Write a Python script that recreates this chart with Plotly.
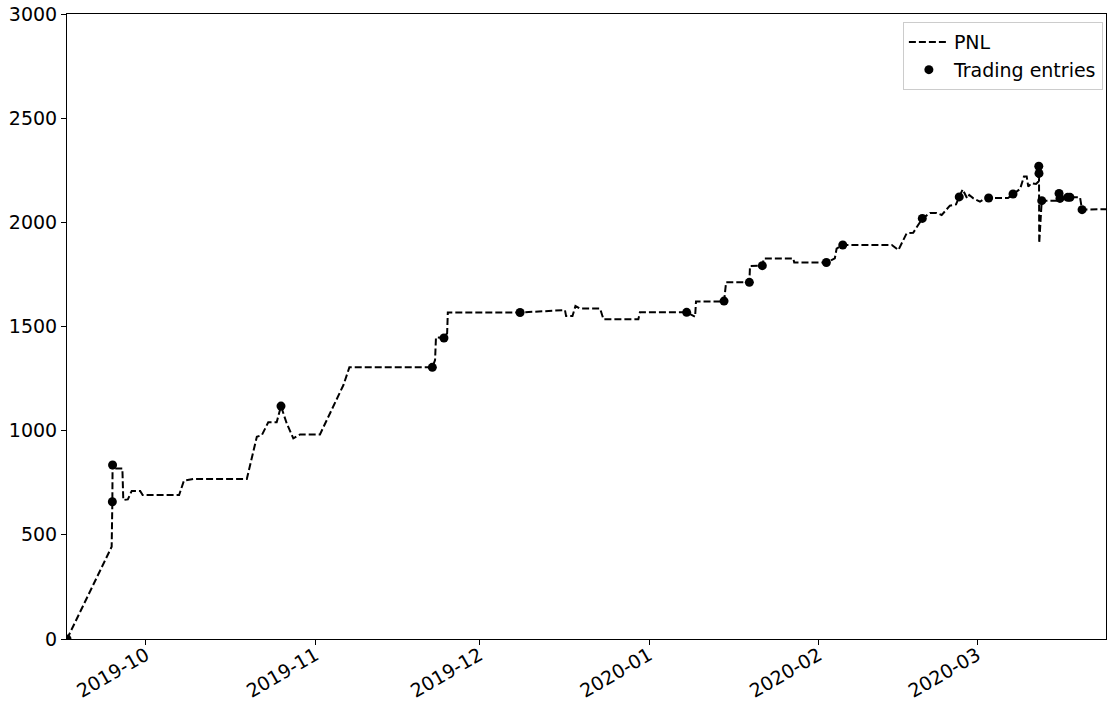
import plotly.graph_objects as go

# PNL curve (date, value)
pnl_dates = [
    "2019-09-16 14:00", "2019-09-24 18:00", "2019-09-24 21:00", "2019-09-24 22:00", "2019-09-24 23:00",
    "2019-09-26 17:00", "2019-09-26 21:00", "2019-09-27 17:00", "2019-09-28 10:00", "2019-09-29 23:00",
    "2019-09-30 10:00", "2019-10-07 02:00", "2019-10-07 23:00", "2019-10-09 16:00", "2019-10-19 11:00",
    "2019-10-21 07:00", "2019-10-22 05:00", "2019-10-23 09:00", "2019-10-24 22:00", "2019-10-25 17:00",
    "2019-10-26 18:00", "2019-10-27 23:00", "2019-10-29 05:00", "2019-11-01 20:00", "2019-11-06 03:00",
    "2019-11-07 05:00", "2019-11-22 09:00", "2019-11-22 21:00", "2019-11-23 01:00", "2019-11-24 12:00",
    "2019-11-25 02:00", "2019-11-25 05:00", "2019-12-08 10:00", "2019-12-16 15:00", "2019-12-16 20:00",
    "2019-12-18 00:00", "2019-12-18 13:00", "2019-12-19 09:00", "2019-12-23 01:00", "2019-12-23 16:00",
    "2019-12-30 01:00", "2019-12-30 08:00", "2020-01-07 21:00", "2020-01-09 10:00", "2020-01-09 14:00",
    "2020-01-14 17:00", "2020-01-15 02:00", "2020-01-19 08:00", "2020-01-19 11:00", "2020-01-21 17:00",
    "2020-01-22 00:00", "2020-01-27 09:00", "2020-01-27 13:00", "2020-02-02 10:00", "2020-02-03 23:00",
    "2020-02-04 07:00", "2020-02-05 10:00", "2020-02-14 09:00", "2020-02-15 14:00", "2020-02-17 02:00",
    "2020-02-18 07:00", "2020-02-19 23:00", "2020-02-21 09:00", "2020-02-22 14:00", "2020-02-23 12:00",
    "2020-02-25 00:00", "2020-02-26 03:00", "2020-02-26 17:00", "2020-02-27 08:00", "2020-02-28 04:00",
    "2020-02-28 13:00", "2020-02-29 07:00", "2020-03-01 12:00", "2020-03-02 03:00", "2020-03-03 02:00",
    "2020-03-06 15:00", "2020-03-07 13:00", "2020-03-08 20:00", "2020-03-09 13:00", "2020-03-10 01:00",
    "2020-03-10 08:00", "2020-03-10 23:00", "2020-03-11 18:00", "2020-03-12 04:00", "2020-03-12 06:00",
    "2020-03-12 07:00", "2020-03-12 08:00", "2020-03-12 19:00", "2020-03-15 13:00", "2020-03-15 23:00",
    "2020-03-16 03:00", "2020-03-17 13:00", "2020-03-17 23:00", "2020-03-19 19:00", "2020-03-20 04:00",
    "2020-03-24 13:00",
]
pnl_values = [
    0, 443, 659, 835, 819,
    819, 667, 670, 711, 711,
    691, 691, 760, 768, 768,
    971, 979, 1040, 1040, 1118,
    1035, 963, 982, 982, 1219,
    1304, 1304, 1339, 1448, 1445,
    1468, 1567, 1567, 1579, 1550,
    1550, 1598, 1586, 1586, 1535,
    1535, 1568, 1568, 1547, 1620,
    1620, 1712, 1712, 1790, 1792,
    1827, 1827, 1807, 1807, 1827,
    1874, 1891, 1891, 1867, 1947,
    1950, 2018, 2045, 2045, 2035,
    2080, 2086, 2122, 2158, 2115,
    2131, 2115, 2099, 2110, 2117,
    2117, 2136, 2160, 2220, 2220,
    2172, 2188, 2184, 2195, 2269,
    2235, 1900, 2104, 2104, 2139,
    2115, 2120, 2120, 2120, 2061,
    2063,
]

# Trading entries
entry_dates = [
    "2019-09-16 14:00", "2019-09-24 21:00", "2019-09-24 22:00", "2019-10-25 17:00", "2019-11-22 09:00",
    "2019-11-24 12:00", "2019-12-08 10:00", "2020-01-07 21:00", "2020-01-14 17:00", "2020-01-19 08:00",
    "2020-01-21 17:00", "2020-02-02 10:00", "2020-02-05 10:00", "2020-02-19 23:00", "2020-02-26 17:00",
    "2020-03-03 02:00", "2020-03-07 13:00", "2020-03-12 06:00", "2020-03-12 07:00", "2020-03-12 19:00",
    "2020-03-15 23:00", "2020-03-16 03:00", "2020-03-17 13:00", "2020-03-17 23:00", "2020-03-20 04:00",
]
entry_values = [
    0, 659, 835, 1118, 1304,
    1445, 1567, 1568, 1622, 1712,
    1792, 1807, 1891, 2019, 2122,
    2117, 2136, 2269, 2235, 2104,
    2139, 2115, 2120, 2120, 2061,
]

y_ticks = [0, 500, 1000, 1500, 2000, 2500, 3000]
x_ticks = ["2019-10-01", "2019-11-01", "2019-12-01", "2020-01-01", "2020-02-01", "2020-03-01"]
x_tick_labels = ["2019-10", "2019-11", "2019-12", "2020-01", "2020-02", "2020-03"]

fig = go.Figure()
fig.add_trace(go.Scatter(
    x=pnl_dates, y=pnl_values, mode="lines", name="PNL",
    line=dict(color="black", width=2, dash="7px,3px"),
))
fig.add_trace(go.Scatter(
    x=entry_dates, y=entry_values, mode="markers", name="Trading entries",
    marker=dict(color="black", size=9),
))

font_family = "DejaVu Sans"
fig.update_layout(
    width=1107, height=709,
    margin=dict(l=67, r=1, t=14, b=70, autoexpand=False),
    plot_bgcolor="white", paper_bgcolor="white",
    font=dict(family=font_family, size=19, color="black"),
    showlegend=True,
    legend=dict(
        x=0.997, y=0.987, xanchor="right", yanchor="top",
        bgcolor="rgba(255,255,255,0.8)", bordercolor="#cccccc", borderwidth=1,
        font=dict(size=19, family=font_family),
        itemwidth=40,
    ),
)
fig.update_xaxes(
    type="date",
    range=[pnl_dates[0], pnl_dates[-1]],
    tickvals=x_ticks, ticktext=x_tick_labels,
    tickangle=-30,
    ticklabelstandoff=-8,
    automargin=False,
    showgrid=False, zeroline=False,
    showline=True, linecolor="black", linewidth=1, mirror=True,
    ticks="outside", ticklen=5, tickcolor="black",
    tickfont=dict(size=19, family=font_family),
)
fig.update_yaxes(
    range=[0, 3000],
    tickvals=y_ticks,
    automargin=False,
    showgrid=False, zeroline=False,
    showline=True, linecolor="black", linewidth=1, mirror=True,
    ticks="outside", ticklen=5, tickcolor="black",
    tickfont=dict(size=19, family=font_family),
)

fig.write_html(
    "out.html",
    config={"displayModeBar": False},
    post_script="document.body.style.margin='0';document.body.style.overflow='hidden';",
)
